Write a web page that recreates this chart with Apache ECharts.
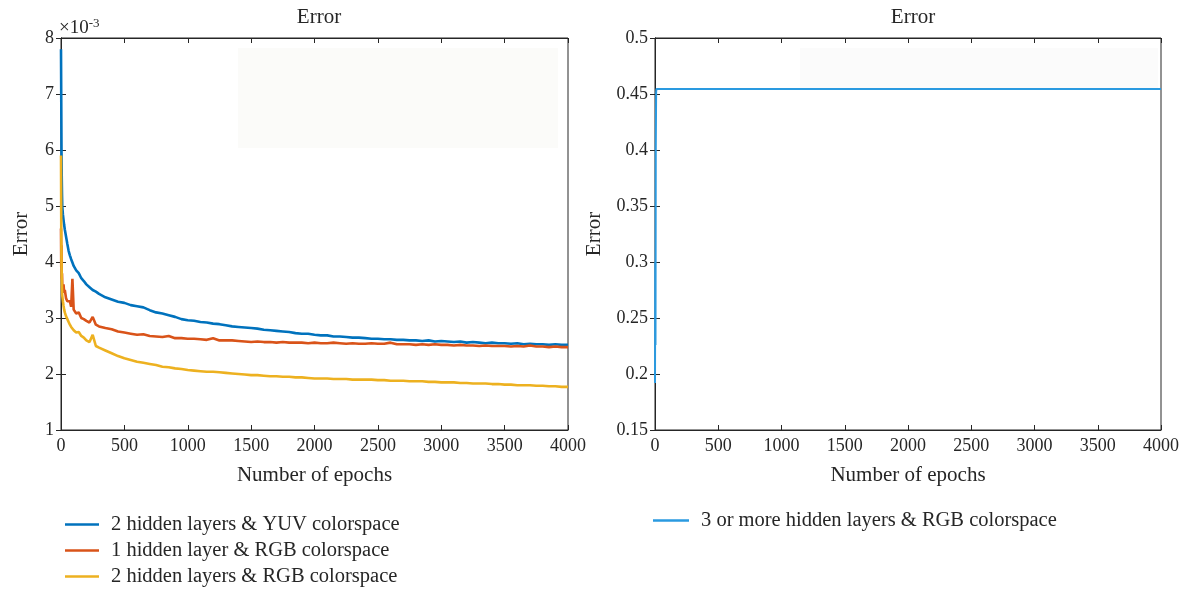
<!DOCTYPE html>
<html>
<head>
<meta charset="utf-8">
<script src="https://cdn.jsdelivr.net/npm/echarts@6/dist/echarts.min.js"></script>
<style>
  html, body { margin: 0; padding: 0; background: #fff; }
  #chart { width: 1190px; height: 592px; }
</style>
</head>
<body>
<div id="chart"></div>
<script>
// epochs shared by the three left-hand curves
const leftEpochs = [0, 2, 4, 6, 8, 10, 15, 20, 25, 30, 40, 50, 60, 70, 80, 90, 100, 120, 140, 160, 180, 200, 225, 250, 275, 300,
    350, 400, 450, 500, 550, 600, 650, 700, 750, 800, 850, 900, 950, 1000, 1050, 1100, 1150, 1200, 1250, 1300, 1350, 1400, 1450, 1500,
    1550, 1600, 1650, 1700, 1750, 1800, 1850, 1900, 1950, 2000, 2050, 2100, 2150, 2200, 2250, 2300, 2350, 2400, 2450, 2500,
    2550, 2600, 2650, 2700, 2750, 2800, 2850, 2900, 2950, 3000, 3050, 3100, 3150, 3200, 3250, 3300, 3350, 3400, 3450, 3500,
    3550, 3600, 3650, 3700, 3750, 3800, 3850, 3900, 3950, 4000];

// error values in units of 1e-3
const yuv2Error = [7.8, 6.9, 6.0, 5.5, 5.2, 5.0, 4.85, 4.75, 4.66, 4.58, 4.45, 4.32, 4.2, 4.12, 4.05, 3.99, 3.93, 3.85, 3.8, 3.71, 3.66, 3.6, 3.55, 3.5, 3.47, 3.43,
    3.37, 3.33, 3.29, 3.27, 3.23, 3.21, 3.19, 3.14, 3.1, 3.08, 3.05, 3.02, 2.98, 2.96, 2.95, 2.93, 2.92, 2.9, 2.89, 2.87, 2.85, 2.84, 2.83, 2.82,
    2.81, 2.79, 2.78, 2.77, 2.76, 2.75, 2.73, 2.72, 2.72, 2.7, 2.69, 2.69, 2.67, 2.67, 2.66, 2.65, 2.65, 2.64, 2.63, 2.63,
    2.62, 2.62, 2.61, 2.61, 2.6, 2.6, 2.59, 2.6, 2.58, 2.59, 2.58, 2.57, 2.58, 2.56, 2.57, 2.56, 2.55, 2.56, 2.55, 2.55,
    2.54, 2.55, 2.53, 2.54, 2.53, 2.53, 2.52, 2.53, 2.52, 2.52];
const rgb1Error = [4.6, 3.9, 4.3, 3.7, 3.8, 3.6, 3.55, 3.6, 3.45, 3.5, 3.35, 3.3, 3.28, 3.3, 3.2, 3.7, 3.15, 3.08, 3.1, 3.0, 2.98, 2.95, 2.92, 3.02, 2.88, 2.85,
    2.82, 2.8, 2.76, 2.74, 2.72, 2.7, 2.71, 2.68, 2.67, 2.66, 2.68, 2.64, 2.64, 2.63, 2.63, 2.62, 2.61, 2.64, 2.6, 2.6, 2.6, 2.59, 2.58, 2.57,
    2.58, 2.57, 2.57, 2.56, 2.57, 2.56, 2.56, 2.56, 2.55, 2.56, 2.55, 2.55, 2.56, 2.55, 2.54, 2.55, 2.54, 2.54, 2.55, 2.54,
    2.54, 2.56, 2.53, 2.53, 2.53, 2.52, 2.53, 2.52, 2.53, 2.52, 2.52, 2.51, 2.52, 2.51, 2.51, 2.5, 2.51, 2.5, 2.5, 2.5,
    2.49, 2.5, 2.49, 2.51, 2.49, 2.49, 2.48, 2.49, 2.48, 2.48];
const rgb2Error = [5.9, 4.6, 4.0, 3.7, 3.5, 3.4, 3.3, 3.22, 3.15, 3.1, 3.03, 2.98, 2.93, 2.88, 2.84, 2.81, 2.78, 2.74, 2.75, 2.68, 2.65, 2.6, 2.57, 2.7, 2.5, 2.47,
    2.42, 2.37, 2.32, 2.28, 2.25, 2.22, 2.2, 2.18, 2.16, 2.13, 2.12, 2.1, 2.09, 2.07, 2.06, 2.05, 2.04, 2.04, 2.03, 2.02, 2.01, 2.0, 1.99, 1.98,
    1.98, 1.97, 1.96, 1.96, 1.95, 1.95, 1.94, 1.94, 1.93, 1.92, 1.92, 1.92, 1.91, 1.91, 1.91, 1.9, 1.9, 1.9, 1.9, 1.89,
    1.89, 1.88, 1.88, 1.88, 1.87, 1.87, 1.87, 1.86, 1.86, 1.85, 1.85, 1.85, 1.84, 1.84, 1.83, 1.83, 1.83, 1.82, 1.82, 1.81,
    1.81, 1.8, 1.8, 1.8, 1.79, 1.79, 1.78, 1.78, 1.77, 1.77];

const rightEpochs = [0, 2, 4, 6, 9, 12, 500, 1000, 1500, 2000, 2500, 3000, 3500, 4000];
const rgb3Error = [0.192, 0.3, 0.226, 0.4, 0.452, 0.4545, 0.4545, 0.4545, 0.4545, 0.4545, 0.4545, 0.4545, 0.4545, 0.4545];

const leftNames = ['2 hidden layers & YUV colorspace', '1 hidden layer & RGB colorspace', '2 hidden layers & RGB colorspace'];
const rightName = '3 or more hidden layers & RGB colorspace';

const FONT = 'Liberation Serif';
const INK = '#262626';

const pair = (xs, ys) => xs.map((x, i) => [x, ys[i]]);

// matlab-like box axis: labels on bottom/left, ticks inside on all sides
function xAxes(grid) {
    const base = { type: 'value', gridIndex: grid, min: 0, max: 4000, interval: 500, splitLine: { show: false },
        axisLine: { lineStyle: { color: INK } }, axisTick: { inside: true, length: 5, lineStyle: { color: INK } } };
    return [
        Object.assign({}, base, { position: 'bottom', name: 'Number of epochs', nameLocation: 'middle', nameGap: 35,
            nameTextStyle: { fontFamily: FONT, fontSize: 21, color: INK },
            axisLabel: { fontFamily: FONT, fontSize: 18, color: INK, margin: 7, formatter: v => String(v) } }),
        Object.assign({}, base, { position: 'top', axisLabel: { show: false } }),
    ];
}
function yAxes(grid, min, max, interval, gap) {
    const base = { type: 'value', gridIndex: grid, min, max, interval, splitLine: { show: false },
        axisLine: { lineStyle: { color: INK } }, axisTick: { inside: true, length: 5, lineStyle: { color: INK } } };
    return [
        Object.assign({}, base, { position: 'left', name: 'Error', nameLocation: 'middle', nameGap: gap,
            nameTextStyle: { fontFamily: FONT, fontSize: 21, color: INK },
            axisLabel: { fontFamily: FONT, fontSize: 18, color: INK, margin: 7 } }),
        Object.assign({}, base, { position: 'right', axisLabel: { show: false } }),
    ];
}

const chart = echarts.init(document.getElementById('chart'));
chart.setOption({
    backgroundColor: '#fff',
    animation: false,
    title: [
        { text: 'Error', left: 314, top: 2, textAlign: 'center', textStyle: { fontFamily: FONT, fontSize: 21, fontWeight: 'normal', color: INK } },
        { text: 'Error', left: 908, top: 2, textAlign: 'center', textStyle: { fontFamily: FONT, fontSize: 21, fontWeight: 'normal', color: INK } },
    ],
    grid: [
        { left: 61, top: 38, width: 507, height: 392, show: true, borderColor: INK, borderWidth: 1 },
        { left: 655, top: 38, width: 506, height: 392, show: true, borderColor: INK, borderWidth: 1 },
    ],
    xAxis: xAxes(0).concat(xAxes(1)),
    yAxis: yAxes(0, 1, 8, 1, 29).concat(yAxes(1, 0.15, 0.5, 0.05, 50)),
    legend: [
        { data: leftNames, orient: 'vertical', left: 60, top: 509, width: 500, height: 90, itemGap: 5, itemWidth: 34, itemHeight: 2.5, icon: 'rect',
            textStyle: { fontFamily: FONT, fontSize: 20.5, color: INK, padding: [0, 0, 0, 7] } },
        { data: [rightName], orient: 'vertical', left: 648, top: 505, width: 500, height: 40, itemWidth: 36, itemHeight: 2.5, icon: 'rect',
            textStyle: { fontFamily: FONT, fontSize: 20.5, color: INK, padding: [0, 0, 0, 7] } },
    ],
    graphic: [
        { type: 'text', left: 59, top: 17, style: { rich: { b: { fontFamily: FONT, fontSize: 19, fill: INK }, s: { fontFamily: FONT, fontSize: 13, fill: INK, verticalAlign: 'top', padding: [0, 0, 9, 0] } },
            text: '{b|×10}{s|-3}' } },
        { type: 'rect', shape: { x: 238, y: 48, width: 320, height: 100 }, style: { fill: '#fbfbf9' }, z: -1 },
        { type: 'rect', shape: { x: 800, y: 48, width: 358, height: 40 }, style: { fill: '#fbfbfb' }, z: -1 },
    ],
    series: [
        { name: leftNames[0], type: 'line', xAxisIndex: 0, yAxisIndex: 0, data: pair(leftEpochs, yuv2Error), showSymbol: false, color: '#0072BD', lineStyle: { width: 2.6 } },
        { name: leftNames[1], type: 'line', xAxisIndex: 0, yAxisIndex: 0, data: pair(leftEpochs, rgb1Error), showSymbol: false, color: '#D95319', lineStyle: { width: 2.6 } },
        { name: leftNames[2], type: 'line', xAxisIndex: 0, yAxisIndex: 0, data: pair(leftEpochs, rgb2Error), showSymbol: false, color: '#EDB120', lineStyle: { width: 2.6 } },
        { name: rightName, type: 'line', xAxisIndex: 2, yAxisIndex: 2, data: pair(rightEpochs, rgb3Error), showSymbol: false, color: '#2A9AE0', lineStyle: { width: 2 } },
    ],
});
</script>
</body>
</html>
